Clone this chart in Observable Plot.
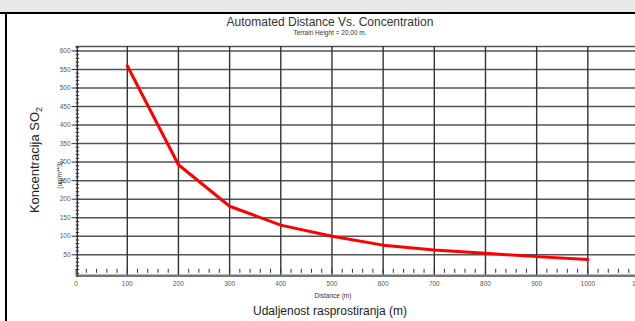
<!DOCTYPE html>
<html>
<head>
<meta charset="utf-8">
<script src="https://cdn.jsdelivr.net/npm/d3@7"></script>
<script src="https://cdn.jsdelivr.net/npm/@observablehq/plot@0.6"></script>
<style>
  html, body { margin: 0; padding: 0; background: #fff; }
  #wrap { position: relative; width: 635px; height: 321px; overflow: hidden; background: #fff; font-family: "Liberation Sans", Arial, sans-serif; }
  #band { position: absolute; left: 0; top: 0; width: 635px; height: 12px; background: #e8e8e8; }
  #topline { position: absolute; left: 0; top: 12px; width: 635px; height: 2px; background: #000; }
  #leftline { position: absolute; left: 5px; top: 12px; width: 2px; height: 309px; background: #000; }
  #chart { position: absolute; left: 0; top: 0; }
</style>
</head>
<body>
<div id="wrap">
  <div id="chart"></div>
  <div id="band"></div>
  <div id="topline"></div>
  <div id="leftline"></div>
</div>
<script>
// Data
const distance = [100, 200, 300, 400, 500, 600, 700, 800, 900, 1000];
const concentration = [560, 293, 181, 130, 100, 76, 63, 54, 45, 37];
const xTicks = [0, 100, 200, 300, 400, 500, 600, 700, 800, 900, 1000, 1100];
const yTicks = [50, 100, 150, 200, 250, 300, 350, 400, 450, 500, 550, 600];
const xMinor = d3.range(0, 1101, 20);
const yMinor = d3.range(0, 611, 10);
const yTop = 612;

const data = distance.map((d, i) => ({distance: d, value: concentration[i]}));

const W = 635, H = 321;
const mL = 75.6, mR = -3.5, mT = 46, mB = 48.2;
const frameW = W - mL - mR, frameH = H - mT - mB;

const plot = Plot.plot({
  width: W,
  height: H,
  marginLeft: mL,
  marginRight: mR,
  marginTop: mT,
  marginBottom: mB,
  style: {background: "transparent", fontFamily: "Liberation Sans, Arial, sans-serif"},
  x: {domain: [0, 1100]},
  y: {domain: [0, yTop]},
  marks: [
    // horizontal gridlines
    Plot.ruleY(yTicks, {stroke: "#555", strokeWidth: 1.5}),
    Plot.ruleY([yTop], {stroke: "#555", strokeWidth: 1.5}),
    // vertical gridlines
    Plot.ruleX(xTicks.filter(d => d > 0), {stroke: "#333", strokeWidth: 1.4, insetBottom: -3}),
    // minor ticks
    Plot.tickX(xMinor, {x: d => d, stroke: "#333", strokeWidth: 1, insetTop: frameH - 4}),
    Plot.tickY(yMinor, {y: d => d, stroke: "#333", strokeWidth: 1, insetRight: frameW - 3.5}),
    // axis lines
    Plot.ruleY([0], {stroke: "#777", strokeWidth: 2.5, dy: 2.5}),
    Plot.ruleX([0], {stroke: "#333", strokeWidth: 1.4, x: d => d, dx: 1.2, insetBottom: -4}),
    // axes
    Plot.axisY(yTicks, {tickSize: 4, tickPadding: 1.5, fontSize: 6.5, fill: "#555", stroke: "#333", label: null, tickFormat: d => String(d)}),
    Plot.axisX(xTicks, {tickSize: 0, tickPadding: 8, fontSize: 6.5, fill: "#555", label: null, tickFormat: d => String(d)}),
    // data line
    Plot.line(data, {x: "distance", y: "value", stroke: "#ff0000", strokeWidth: 3})
  ]
});

document.getElementById("chart").appendChild(plot);

const svg = d3.select(plot);
const addText = (x, y, txt, size, fill, rotate) => {
  const t = svg.append("text")
    .attr("text-anchor", "middle")
    .attr("font-family", "Liberation Sans, Arial, sans-serif")
    .attr("font-size", size)
    .attr("fill", fill);
  if (rotate) t.attr("transform", `translate(${x},${y}) rotate(-90)`);
  else t.attr("x", x).attr("y", y);
  t.text(txt);
  return t;
};
addText(330, 26, "Automated Distance Vs. Concentration", 12, "#333");
addText(330, 35, "Terrain Height = 20,00 m.", 6.5, "#333");
addText(333, 298, "Distance (m)", 6.5, "#333");
addText(330, 315, "Udaljenost rasprostiranja (m)", 12, "#222");
addText(62, 175, "(ug/m**3)", 6.5, "#333", true);
const k = addText(39, 160, "", 13, "#222", true);
k.append("tspan").text("Koncentracija SO");
k.append("tspan").attr("font-size", 9).attr("dy", 3).text("2");
</script>
</body>
</html>
